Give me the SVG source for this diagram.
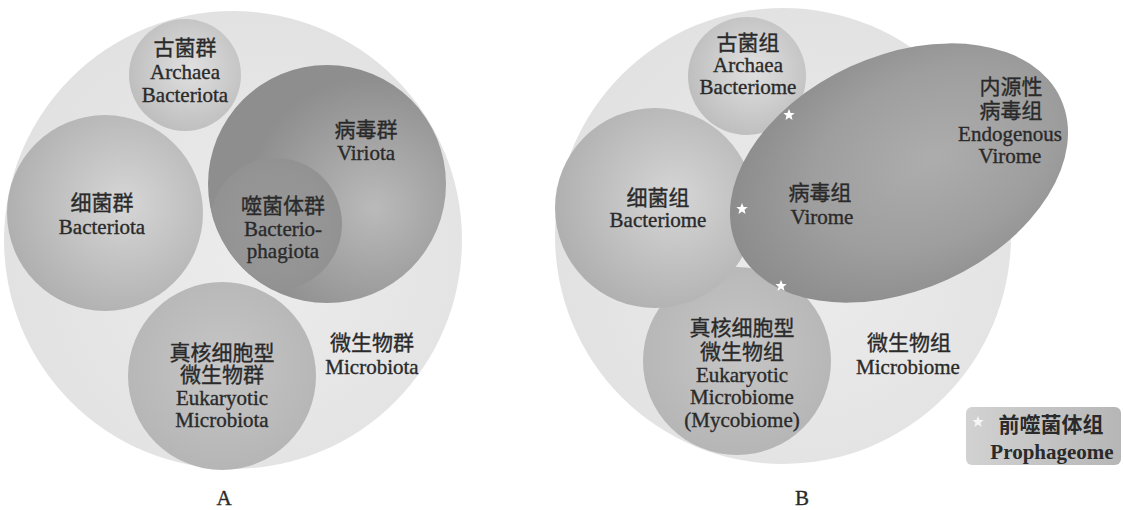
<svg xmlns="http://www.w3.org/2000/svg" width="1123" height="510" viewBox="0 0 1123 510">
<style>
text{font-family:"Liberation Serif","Noto Sans CJK SC",serif;font-size:21px;fill:#2a2a2a;stroke:#2a2a2a;stroke-width:0.35;text-anchor:middle}
.lg{font-weight:bold;stroke-width:0}
.star{fill:#ffffff}
</style>
<defs>
<radialGradient id="gBig" cx="0.55" cy="0.55" r="0.6"><stop offset="0" stop-color="#ececec"/><stop offset="1" stop-color="#e1e1e1"/></radialGradient>
<radialGradient id="gArch" cx="0.55" cy="0.45" r="0.6"><stop offset="0" stop-color="#e0e0e0"/><stop offset="1" stop-color="#bcbcbc"/></radialGradient>
<radialGradient id="gBac" cx="0.6" cy="0.45" r="0.6"><stop offset="0" stop-color="#d6d6d6"/><stop offset="1" stop-color="#b0b0b0"/></radialGradient>
<radialGradient id="gEuk" cx="0.5" cy="0.45" r="0.6"><stop offset="0" stop-color="#c6c6c6"/><stop offset="1" stop-color="#b4b4b4"/></radialGradient>
<radialGradient id="gVir" cx="0.7" cy="0.6" r="0.55"><stop offset="0" stop-color="#bababa"/><stop offset="0.5" stop-color="#a4a4a4"/><stop offset="1" stop-color="#8e8e8e"/></radialGradient>
<radialGradient id="gPhg" cx="0.5" cy="0.5" r="0.5"><stop offset="0" stop-color="#989898"/><stop offset="0.8" stop-color="#949494"/><stop offset="1" stop-color="#929292"/></radialGradient>
<radialGradient id="gVB" cx="0.6" cy="0.5" r="0.6"><stop offset="0" stop-color="#adadad"/><stop offset="0.6" stop-color="#9e9e9e"/><stop offset="1" stop-color="#8c8c8c"/></radialGradient>
<linearGradient id="gLeg" x1="0" y1="0" x2="1" y2="0"><stop offset="0" stop-color="#d2d2d2"/><stop offset="1" stop-color="#b6b6b6"/></linearGradient>
<clipPath id="cVir"><circle cx="327" cy="184" r="119"/></clipPath>
<polygon id="st" points="0,-6 1.6,-2 5.7,-1.9 2.5,0.8 3.5,4.9 0,2.6 -3.5,4.9 -2.5,0.8 -5.7,-1.9 -1.6,-2"/>
</defs>
<g id="connectors"/>

<g id="panelA">
<g id="A-microbiota"><circle cx="233" cy="240" r="229" fill="url(#gBig)"/>
<text x="372" y="350">微生物群</text><text x="372" y="374">Microbiota</text></g>
<g id="A-archaea"><circle cx="185" cy="75" r="56" fill="url(#gArch)"/>
<text x="185" y="55">古菌群</text><text x="185" y="79">Archaea</text><text x="185" y="102">Bacteriota</text></g>
<g id="A-bacteria"><circle cx="105" cy="213" r="98" fill="url(#gBac)"/>
<text x="102" y="210">细菌群</text><text x="102" y="234">Bacteriota</text></g>
<g id="A-viriota"><circle cx="327" cy="184" r="119" fill="url(#gVir)"/>
<text x="366" y="137">病毒群</text><text x="366" y="160">Viriota</text></g>
<g id="A-phage"><circle cx="276" cy="224" r="66" fill="url(#gPhg)" clip-path="url(#cVir)"/>
<text x="283" y="213">噬菌体群</text><text x="283" y="236">Bacterio-</text><text x="283" y="258">phagiota</text></g>
<g id="A-eukaryotic"><circle cx="222" cy="376" r="94" fill="url(#gEuk)"/>
<text x="222" y="360">真核细胞型</text><text x="222" y="382">微生物群</text><text x="222" y="405">Eukaryotic</text><text x="222" y="427">Microbiota</text></g>
<text x="224" y="505">A</text>
</g>

<g id="panelB">
<g id="B-microbiome"><circle cx="783" cy="236" r="228" fill="url(#gBig)"/>
<text x="909" y="350">微生物组</text><text x="908" y="374">Microbiome</text></g>
<g id="B-archaea"><circle cx="747" cy="76" r="59" fill="url(#gArch)"/>
<text x="748" y="50">古菌组</text><text x="748" y="72">Archaea</text><text x="748" y="94">Bacteriome</text></g>
<g id="B-eukaryotic"><circle cx="737" cy="361" r="94" fill="url(#gEuk)"/>
<text x="742" y="335">真核细胞型</text><text x="742" y="359">微生物组</text><text x="742" y="382">Eukaryotic</text><text x="742" y="404">Microbiome</text><text x="742" y="427">(Mycobiome)</text></g>
<g id="B-bacteria"><circle cx="655" cy="208" r="100" fill="url(#gBac)"/>
<text x="658" y="205">细菌组</text><text x="658" y="227">Bacteriome</text></g>
<g id="B-virome"><ellipse cx="899" cy="173" rx="178" ry="117" transform="rotate(-24.6 899 173)" fill="url(#gVB)"/>
<text x="820" y="200">病毒组</text><text x="822" y="224">Virome</text>
<text x="1011" y="94">内源性</text><text x="1011" y="118">病毒组</text><text x="1010" y="141">Endogenous</text><text x="1010" y="163">Virome</text></g>
<g id="B-prophage">
<use href="#st" class="star" x="789" y="115"/>
<use href="#st" class="star" x="742" y="209"/>
<use href="#st" class="star" x="781" y="286"/>
</g>
<g id="B-legend"><rect x="966" y="407" width="155" height="58" rx="6" fill="url(#gLeg)"/>
<use href="#st" class="star" x="978" y="422" opacity="0.8"/>
<text class="lg" x="1051" y="432">前噬菌体组</text><text class="lg" x="1052" y="459">Prophageome</text></g>
<text x="802" y="505">B</text>
</g>
</svg>
